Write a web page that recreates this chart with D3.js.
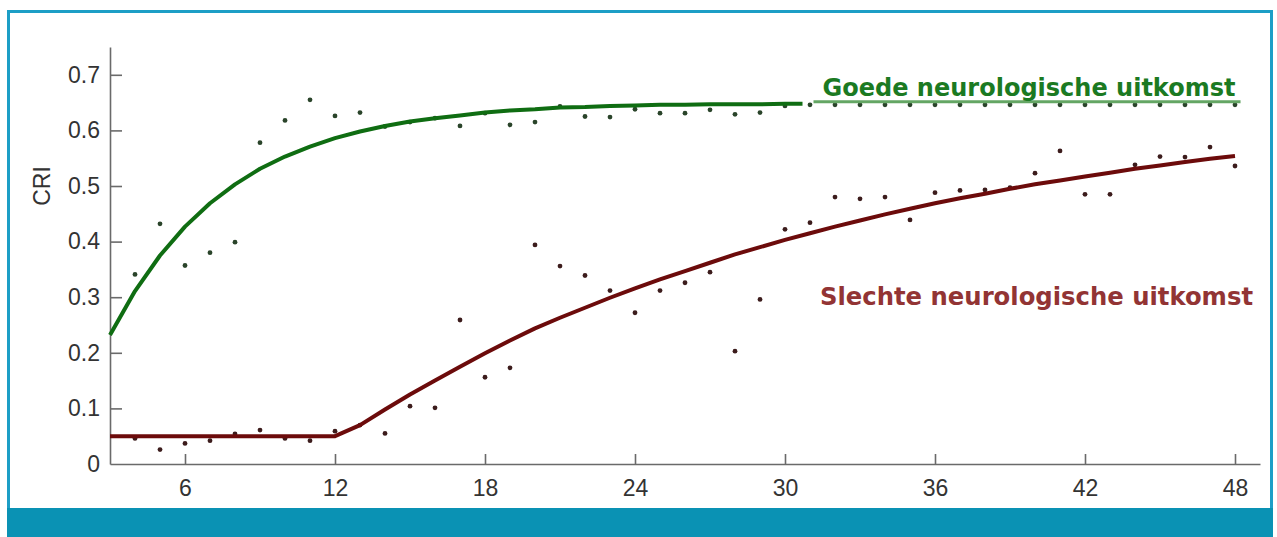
<!DOCTYPE html>
<html>
<head>
<meta charset="utf-8">
<script src="https://cdn.jsdelivr.net/npm/d3@7"></script>
<style>
  html, body { margin: 0; padding: 0; background: #ffffff; }
  svg { display: block; }
</style>
</head>
<body>
<svg id="chart" width="1277" height="537"></svg>
<script>
// Months after resuscitation for the scatter measurements
const months = d3.range(4, 49);

// CRI per month, good neurological outcome (months 4..48)
const goodValues = [
  0.341, 0.432, 0.357, 0.380, 0.399, 0.578, 0.618, 0.655, 0.626, 0.632,
  0.607, 0.615, 0.622, 0.608, 0.631, 0.610, 0.615, 0.643, 0.625, 0.624,
  0.638, 0.631, 0.631, 0.637, 0.629, 0.632, 0.644, 0.646, 0.646, 0.646,
  0.646, 0.646, 0.646, 0.646, 0.646, 0.646, 0.646, 0.646, 0.646, 0.646,
  0.646, 0.646, 0.646, 0.646, 0.646
];

// CRI per month, poor neurological outcome (months 4..48)
const poorValues = [
  0.046, 0.026, 0.037, 0.042, 0.054, 0.061, 0.046, 0.042, 0.059, 0.070,
  0.055, 0.104, 0.101, 0.259, 0.156, 0.173, 0.394, 0.356, 0.339, 0.312,
  0.272, 0.312, 0.326, 0.345, 0.203, 0.296, 0.422, 0.434, 0.480, 0.477,
  0.480, 0.439, 0.488, 0.492, 0.493, 0.497, 0.523, 0.563, 0.485, 0.485,
  0.538, 0.553, 0.552, 0.570, 0.536
];

// Fitted trend, good outcome
const goodFitMonths = [3, 4, 5, 6, 7, 8, 9, 10, 11, 12, 13, 14, 15, 16, 17, 18,
  19, 20, 21, 22, 23, 24, 25, 26, 27, 28, 29, 30, 30.7];
const goodFitValues = [0.232, 0.311, 0.375, 0.427, 0.469, 0.503, 0.531, 0.553,
  0.571, 0.586, 0.598, 0.608, 0.616, 0.622, 0.627, 0.632, 0.636, 0.638, 0.641,
  0.642, 0.644, 0.645, 0.646, 0.646, 0.647, 0.647, 0.647, 0.648, 0.648];

// Fitted trend, poor outcome
const poorFitMonths = d3.range(3, 49);
const poorFitValues = [
  0.050, 0.050, 0.050, 0.050, 0.050, 0.050, 0.050, 0.050, 0.050, 0.050,
  0.070, 0.098, 0.125, 0.150, 0.175, 0.199, 0.222, 0.244, 0.263, 0.281,
  0.299, 0.316, 0.332, 0.347, 0.362, 0.377, 0.390, 0.403, 0.415, 0.427,
  0.438, 0.449, 0.459, 0.469, 0.478, 0.486, 0.495, 0.503, 0.510, 0.517,
  0.524, 0.531, 0.537, 0.543, 0.549, 0.554
];

const xTicks = [6, 12, 18, 24, 30, 36, 42, 48];
const yTicks = [0, 0.1, 0.2, 0.3, 0.4, 0.5, 0.6, 0.7];
const yTickLabels = ["0", "0.1", "0.2", "0.3", "0.4", "0.5", "0.6", "0.7"];

const goodLabel = "Goede neurologische uitkomst";
const poorLabel = "Slechte neurologische uitkomst";
const yTitle = "CRI";

const svg = d3.select("#chart");
const W = 1277, H = 537;

// Slide frame: thin teal border with a solid band at the bottom
svg.append("rect")
  .attr("x", 8.5).attr("y", 11.5)
  .attr("width", W - 14).attr("height", H - 8)
  .attr("fill", "#ffffff")
  .attr("stroke", "#1d9ec6").attr("stroke-width", 3);
svg.append("rect")
  .attr("x", 7).attr("y", 508)
  .attr("width", W - 11).attr("height", H - 508)
  .attr("fill", "#0a92b4");

const x = d3.scaleLinear().domain([3, 49]).range([110, 1260]);
const y = d3.scaleLinear().domain([0, 0.75]).range([464, 47]);

const axisColor = "#6a6a6a";
const labelFont = "'Liberation Sans', Arial, sans-serif";

// X axis (ticks point inward)
const xAxis = svg.append("g")
  .attr("transform", `translate(0,${y(0)})`)
  .call(d3.axisBottom(x).tickValues(xTicks).tickSizeInner(-10).tickSizeOuter(0).tickPadding(16));
xAxis.select(".domain").attr("stroke", axisColor).attr("stroke-width", 1.6);
xAxis.selectAll(".tick line").attr("stroke", axisColor).attr("stroke-width", 1.6);
xAxis.selectAll(".tick text")
  .attr("fill", "#333333")
  .style("font-family", labelFont).style("font-size", "23px");

// Y axis (ticks point inward)
const yAxis = svg.append("g")
  .attr("transform", `translate(${x(3)},0)`)
  .call(d3.axisLeft(y).tickValues(yTicks)
    .tickFormat((d, i) => yTickLabels[i])
    .tickSizeInner(-12).tickSizeOuter(0).tickPadding(10));
yAxis.select(".domain").attr("stroke", axisColor).attr("stroke-width", 1.6);
yAxis.selectAll(".tick line").attr("stroke", axisColor).attr("stroke-width", 1.6);
yAxis.selectAll(".tick text")
  .attr("fill", "#333333")
  .style("font-family", labelFont).style("font-size", "23px");
// The zero tick sits on the x axis
yAxis.selectAll(".tick").filter(d => d === 0).select("line").remove();

svg.append("text")
  .attr("transform", `translate(50,${y(0.5)}) rotate(-90)`)
  .attr("text-anchor", "middle")
  .attr("fill", "#333333")
  .style("font-family", labelFont).style("font-size", "23px")
  .text(yTitle);

// Scatter points
const goodPts = months.map((m, i) => ({ m, v: goodValues[i] }));
const poorPts = months.map((m, i) => ({ m, v: poorValues[i] }));

svg.append("g").selectAll("circle").data(goodPts).join("circle")
  .attr("cx", d => x(d.m)).attr("cy", d => y(d.v)).attr("r", 2.4)
  .attr("fill", "#2a442a");
svg.append("g").selectAll("circle").data(poorPts).join("circle")
  .attr("cx", d => x(d.m)).attr("cy", d => y(d.v)).attr("r", 2.4)
  .attr("fill", "#3c1c1c");

// Trend lines
const line = d3.line().x(d => x(d[0])).y(d => y(d[1]));
svg.append("path")
  .datum(goodFitMonths.map((m, i) => [m, goodFitValues[i]]))
  .attr("d", line)
  .attr("fill", "none").attr("stroke", "#0f6d12").attr("stroke-width", 4)
  .attr("stroke-linejoin", "round");
svg.append("path")
  .datum(poorFitMonths.map((m, i) => [m, poorFitValues[i]]))
  .attr("d", line)
  .attr("fill", "none").attr("stroke", "#6c0b0b").attr("stroke-width", 4)
  .attr("stroke-linejoin", "round");

// Outcome labels
const titleFont = "'DejaVu Sans', Verdana, sans-serif";
const gUnderline = svg.append("line")
  .attr("stroke", "#64a664").attr("stroke-width", 3);
const gText = svg.append("text")
  .attr("x", x(31.5)).attr("y", y(0.661))
  .attr("fill", "#1b7a22")
  .attr("textLength", 413).attr("lengthAdjust", "spacingAndGlyphs")
  .style("font-family", titleFont).style("font-size", "25px").style("font-weight", "bold")
  .text(goodLabel);
const gb = gText.node().getBBox();
gUnderline
  .attr("x1", gb.x - 9).attr("x2", gb.x + gb.width + 5)
  .attr("y1", y(0.6515)).attr("y2", y(0.6515));

svg.append("text")
  .attr("x", x(31.4)).attr("y", y(0.286))
  .attr("fill", "#923434")
  .attr("textLength", 433).attr("lengthAdjust", "spacingAndGlyphs")
  .style("font-family", titleFont).style("font-size", "25px").style("font-weight", "bold")
  .text(poorLabel);
</script>
</body>
</html>
